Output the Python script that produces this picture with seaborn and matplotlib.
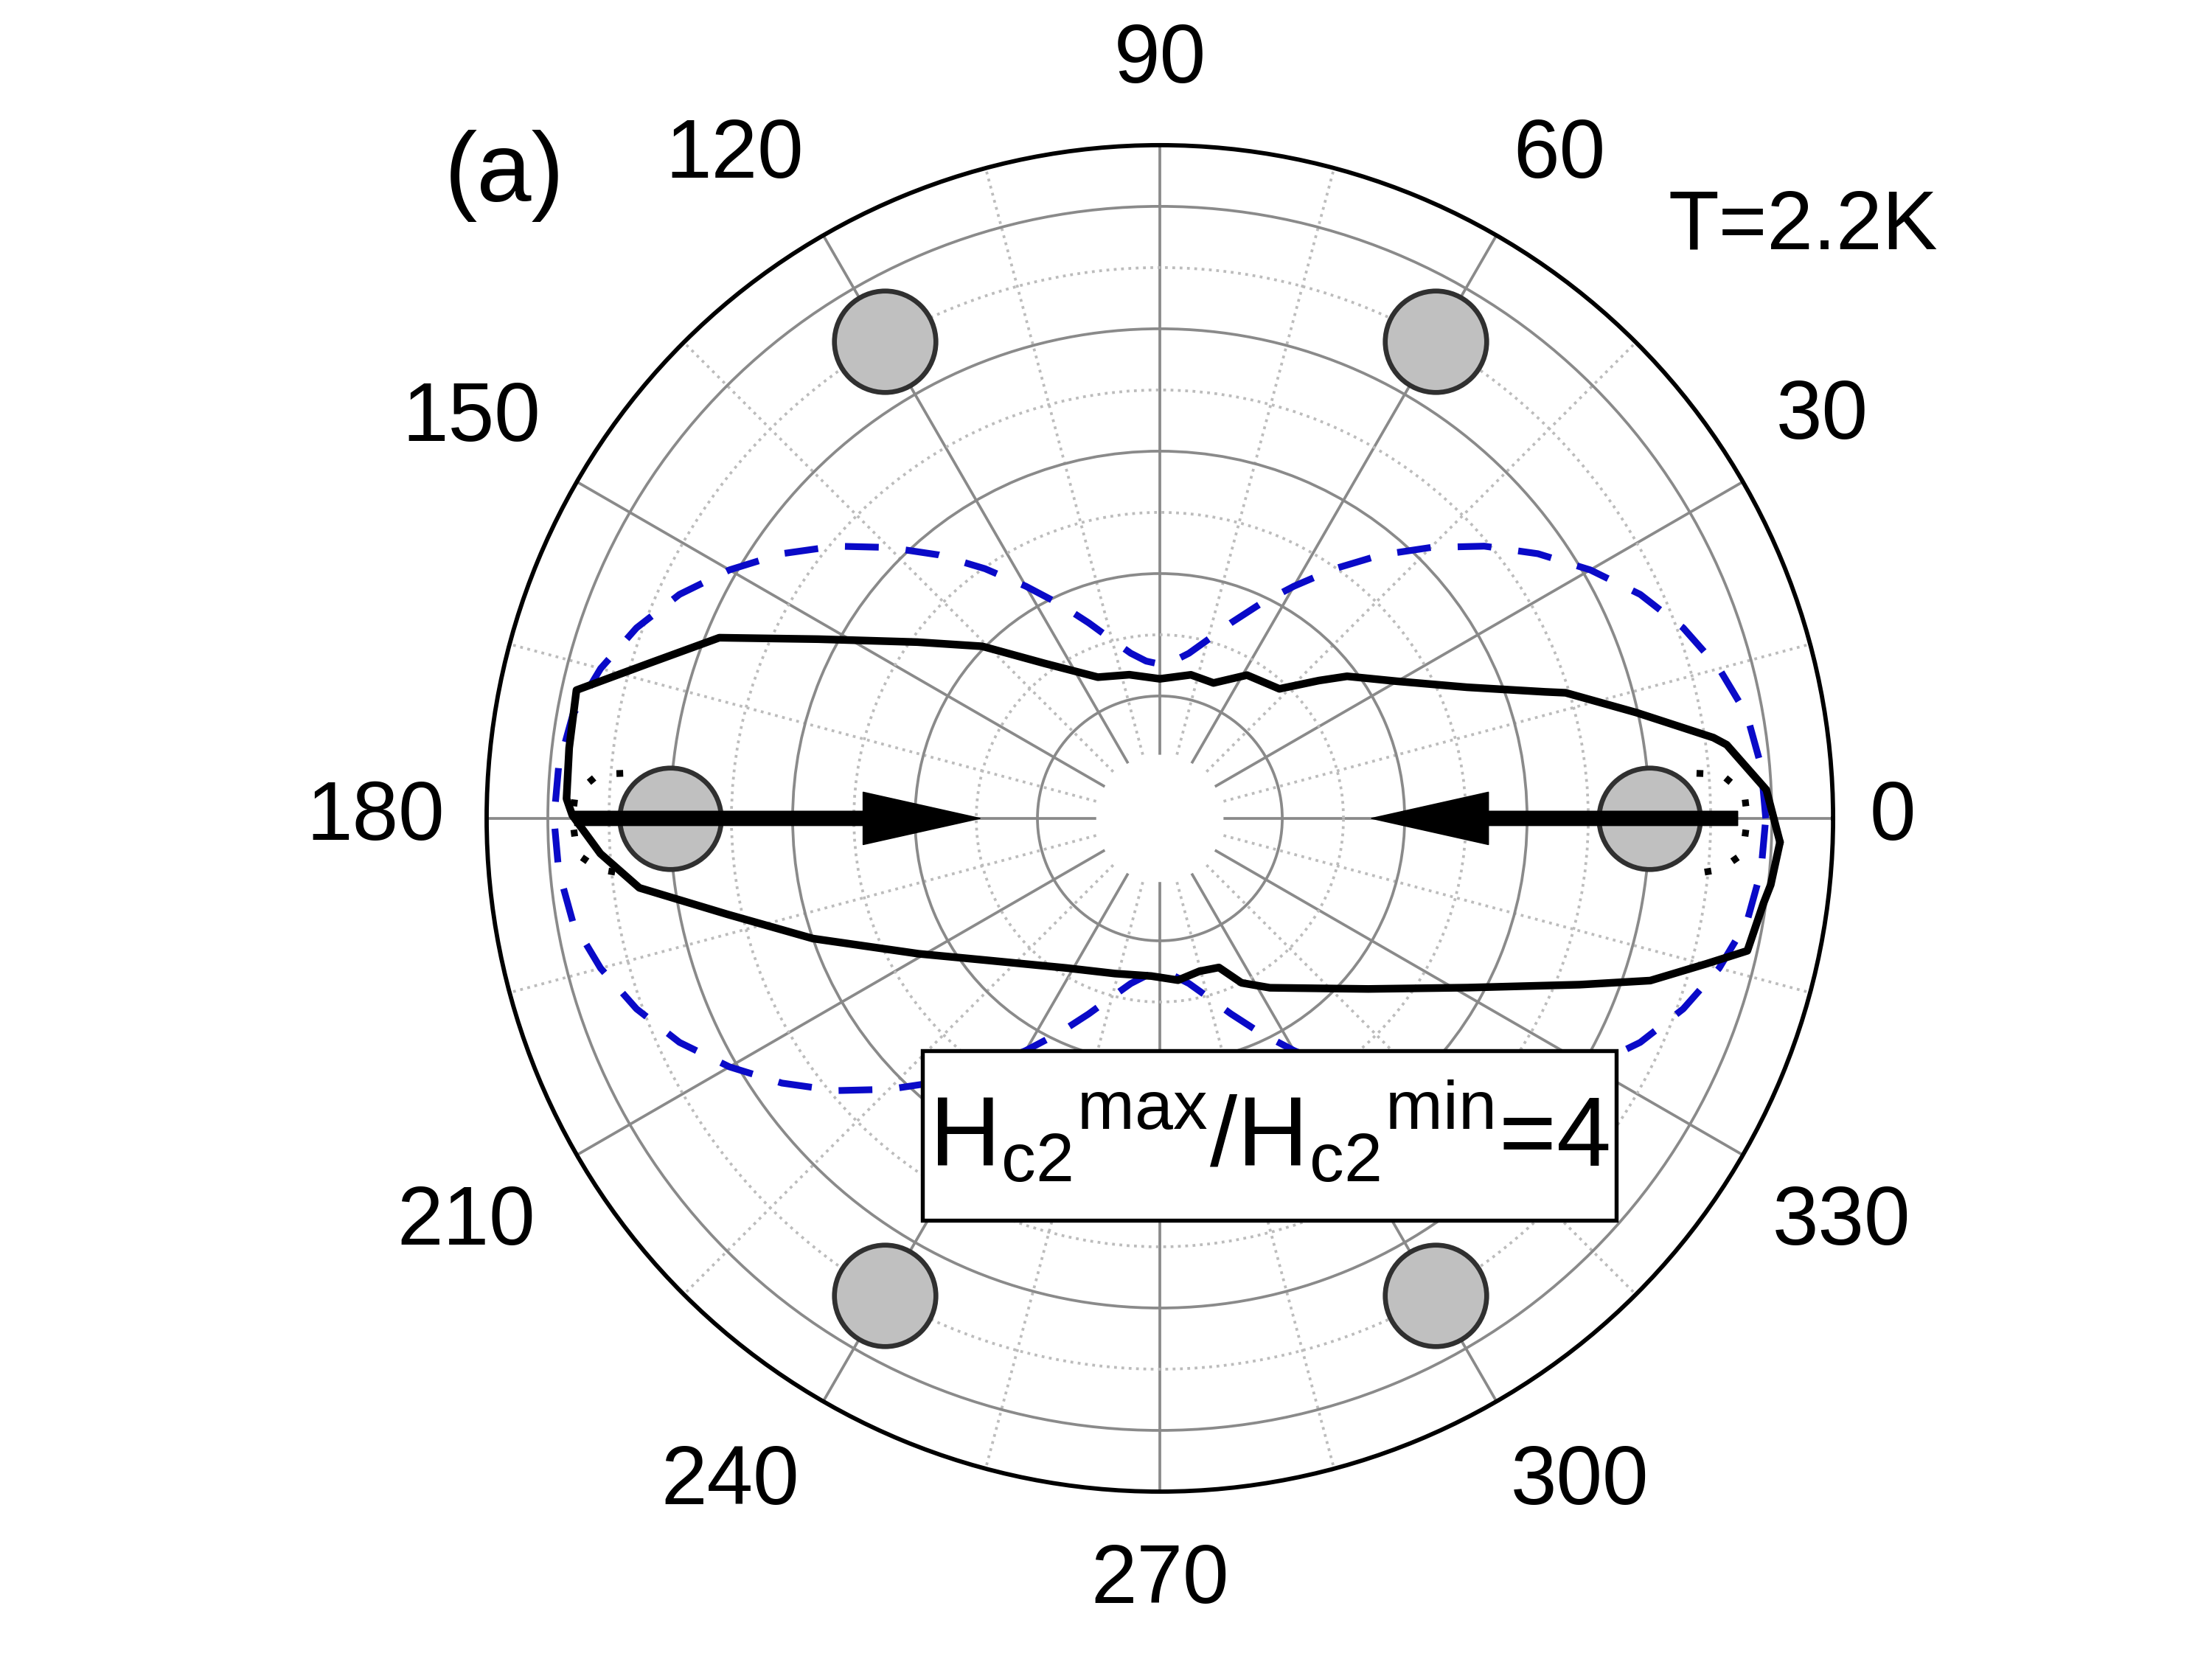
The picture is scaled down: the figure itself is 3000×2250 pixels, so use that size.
import numpy as np
import pandas as pd
import seaborn as sns
import matplotlib
matplotlib.use("Agg")
import matplotlib.pyplot as plt
from matplotlib.patches import Rectangle

# blue dashed curve, first quadrant (deg, r)
blue_deg = [0, 5, 10, 15, 20, 25, 30, 35, 40, 45, 50, 55, 60, 65, 70, 75, 80, 85, 90]
blue_r = [4.95, 4.93, 4.87, 4.73, 4.55, 4.33, 4.06, 3.77, 3.46, 3.13, 2.81, 2.49,
          2.19, 1.93, 1.70, 1.51, 1.37, 1.29, 1.26]

# measured Hc2 curve (black), going round once
hc2_deg = [-2.2, 2.7, 7.4, 8.3, 12.5, 17.2, 18.2, 23.1, 30.0, 37.2, 40.9, 47.3, 58.7,
           68.4, 77.8, 90.0, 102.0, 113.7, 126.7, 135.9, 144.0, 152.3, 157.7, 163.1,
           167.6, 173.2, 178.1, 179.7, 183.6, 187.6, 192.5, 199.1, 209.3, 219.6, 238.1,
           253.8, 266.9, 276.4, 284.5, 291.6, 296.4, 303.0, 320.7, 331.2, 338.4, 341.7,
           345.1, 347.3, 352.0, 353.8, 357.8]
hc2_r = [5.07, 4.96, 4.67, 4.57, 3.99, 3.47, 3.31, 2.73, 2.24, 1.92, 1.72, 1.44, 1.37,
         1.19, 1.20, 1.14, 1.20, 1.26, 1.58, 2.02, 2.45, 3.15, 3.89, 4.36,
         4.88, 4.86, 4.85, 4.80, 4.58, 4.29, 3.62, 3.00, 2.26, 1.82, 1.44,
         1.32, 1.29, 1.33, 1.29, 1.31, 1.50, 1.65, 2.20, 2.87, 3.69, 4.22,
         4.62, 4.92, 4.98, 5.02, 5.07]

# small dotted lobe tips near 0 and 180
lobe_deg = [4.8, 4.5, 2.4, 0.0, -3.5, -5.2, -6.0]
lobe_r = [4.40, 4.60, 4.78, 4.80, 4.77, 4.60, 4.37]

# grey dots
dot_deg = [0, 60, 120, 180, 240, 300]
dot_r = [4.0, 4.5, 4.5, 4.0, 4.5, 4.5]

# arrows: (angle, tail r, tip r)
arrow_deg = [180, 0]
arrow_tail = [4.78, 4.72]
arrow_tip = [1.47, 1.73]

angle_labels = [str(a) for a in range(0, 360, 30)]

# full blue curve from the quadrant (mirror symmetric)
q = np.array(blue_deg, dtype=float)
rq = np.array(blue_r)
b_theta = np.concatenate([q, 180 - q[::-1], 180 + q, 360 - q[::-1]])
b_r = np.concatenate([rq, rq[::-1], rq, rq[::-1]])
blue = pd.DataFrame({"theta": np.deg2rad(b_theta), "r": b_r})

hc2 = pd.DataFrame({"theta": np.deg2rad(hc2_deg + [hc2_deg[0] + 360]),
                    "r": hc2_r + [hc2_r[0]]})

sns.set_style("white")
plt.rcParams["font.family"] = ["Liberation Sans", "DejaVu Sans"]
plt.rcParams["text.color"] = "black"

fig = plt.figure(figsize=(10, 7.5), dpi=300)
ax = fig.add_axes([0.2200, 0.1009, 0.6087, 0.8116], projection="polar")
ax.set_axisbelow(True)

ax.set_rlim(0, 5.5)
ax.set_yticks([1, 2, 3, 4, 5])
ax.set_yticks([0.5, 1.5, 2.5, 3.5, 4.5], minor=True)
ax.set_yticklabels([])
ax.set_yticklabels([], minor=True)
ax.set_xticks(np.deg2rad(np.arange(0, 360, 30)))
ax.set_xticks(np.deg2rad(np.arange(15, 360, 30)), minor=True)
ax.set_xticklabels([])
ax.grid(which="major", color="#8a8a8a", lw=0.9, ls="-")
ax.grid(which="minor", color="#bcbcbc", lw=0.9, ls=":")
ax.tick_params(axis="x", which="major", direction="in", length=15, width=1.3, color="black")
ax.tick_params(axis="x", which="minor", direction="in", length=5, width=1.3, color="black")
ax.tick_params(axis="y", which="both", length=0)
ax.spines["polar"].set_linewidth(1.4)
ax.spines["polar"].set_color("black")

# white hole in the middle
ax.bar(0, 0.52, width=2 * np.pi, bottom=0, color="white", linewidth=0, zorder=1)

sns.lineplot(data=blue, x="theta", y="r", sort=False, estimator=None, ax=ax,
             color="#0a0ac8", lw=2.2, linestyle=(0, (5, 4)), zorder=3)

for base in (0, 180):
    sign = 1 if base == 0 else -1
    th = np.deg2rad(base + sign * np.array(lobe_deg))
    sns.lineplot(x=th, y=lobe_r, sort=False, estimator=None, ax=ax,
                 color="black", lw=2.2, linestyle=(0, (1, 3.5)), zorder=3)

sns.lineplot(data=hc2, x="theta", y="r", sort=False, estimator=None, ax=ax,
             color="black", lw=2.5, zorder=4)

sns.scatterplot(x=np.deg2rad(dot_deg), y=dot_r, s=1090, color="#c0c0c0",
                edgecolor="#303030", linewidth=1.6, ax=ax, zorder=5)

for d, t0, t1 in zip(arrow_deg, arrow_tail, arrow_tip):
    ax.annotate("", xy=(np.deg2rad(d), t1), xytext=(np.deg2rad(d), t0),
                arrowprops=dict(arrowstyle="simple,head_length=3.8,head_width=1.7,tail_width=0.46",
                                lw=0.4, fc="black", ec="black", shrinkA=0, shrinkB=0,
                                mutation_scale=10),
                zorder=6)

ax.set_xlabel("")
ax.set_ylabel("")

# angle labels around the rim: (position angle, radius factor) per label
label_pos_deg = [0, 31.2, 58.9, 90, 122.7, 149.9, 180, 210.3, 237.1, 270, 302.3, 329.3]
label_pad = [1.088, 1.150, 1.148, 1.125, 1.169, 1.182, 1.165, 1.193, 1.176, 1.134, 1.168, 1.177]
for lab, pdeg, f in zip(angle_labels, label_pos_deg, label_pad):
    ax.text(np.deg2rad(pdeg), 5.5 * f, lab, ha="center", va="center",
            fontsize=27, clip_on=False)

fig.text(0.228, 0.894, "(a)", ha="center", va="center", fontsize=32)
fig.text(0.815, 0.863, "T=2.2K", ha="center", va="center", fontsize=27)

fig.patches.append(Rectangle((0.417, 0.2644), 0.3137, 0.1022, transform=fig.transFigure,
                             facecolor="white", edgecolor="black", lw=1.3, zorder=10))
fig.text(0.574, 0.2964, r"$\mathregular{H_{c2}{}^{max}/H_{c2}{}^{min}}$=4",
         ha="center", va="baseline", fontsize=32, zorder=11)

fig.savefig("out.png", dpi=300, facecolor="white")
